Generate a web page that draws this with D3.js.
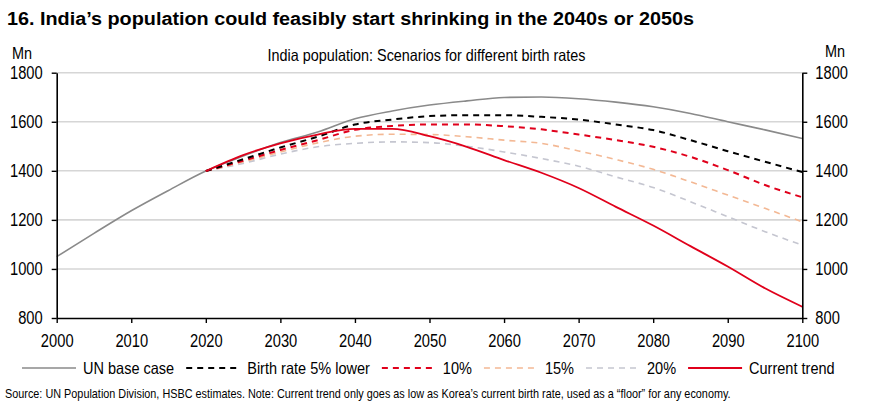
<!DOCTYPE html>
<html>
<head>
<meta charset="utf-8">
<script src="https://cdn.jsdelivr.net/npm/d3@7"></script>
<style>
  body { margin:0; background:#fff; }
  text { font-family:"Liberation Sans",Arial,sans-serif; fill:#000; }
  .title { font-weight:bold; }
</style>
</head>
<body>
<div id="chart"></div>
<script>
// data (Mn people)
var unYears=[2000,2005,2010,2015,2020,2025,2030,2035,2040,2045,2050,2055,2060,2065,2070,2075,2080,2085,2090,2095,2100];
var unBase=[1050,1145,1237,1320,1399,1460,1515,1558,1612,1644,1668,1685,1699,1701,1694,1680,1661,1634,1600,1567,1532];

var scYears=[2020,2025,2030,2035,2040,2045,2050,2055,2060,2065,2070,2075,2080,2085,2090,2095,2100];
var lower5=[1399,1447,1495,1539,1589,1609,1623,1627,1627,1620,1609,1589,1566,1525,1480,1437,1395];
var lower10=[1399,1441,1485,1525,1567,1583,1589,1589,1582,1569,1548,1525,1498,1457,1403,1342,1292];
var lower15=[1399,1436,1477,1514,1541,1549,1548,1539,1525,1512,1481,1446,1406,1355,1301,1247,1192];
var lower20=[1399,1430,1468,1498,1512,1518,1515,1500,1477,1450,1419,1375,1332,1274,1213,1152,1097];
var currentTrend=[1399,1464,1512,1548,1571,1571,1541,1498,1444,1392,1330,1253,1177,1093,1010,921,846];

var xTicks=[2000,2010,2020,2030,2040,2050,2060,2070,2080,2090,2100];
var yTicks=[800,1000,1200,1400,1600,1800];

var titleText="16. India\u2019s population could feasibly start shrinking in the 2040s or 2050s";
var subTitle="India population: Scenarios for different birth rates";
var sourceText="Source: UN Population Division, HSBC estimates. Note: Current trend only goes as low as Korea\u2019s current birth rate, used as a \u201cfloor\u201d for any economy.";

var svgW=869, svgH=412;
var margin={top:72.7,left:56.7,right:66.7,bottom:94};
var chartW=svgW-margin.left-margin.right;
var chartH=svgH-margin.top-margin.bottom;

var svg=d3.select('#chart').append('svg')
    .attr('width',svgW)
    .attr('height',svgH);

var chart=svg.append('g')
    .attr('transform',`translate(${margin.left},${margin.top})`);

// no narrow font installed, so squeeze the regular one to look like Arial Narrow
function squeeze(sel,k){
    sel.each(function(){
        var w=this.getComputedTextLength();
        d3.select(this).attr('textLength',w*k).attr('lengthAdjust','spacingAndGlyphs');
    });
}

var xscale=d3.scaleLinear().domain([2000,2100]).range([0,chartW]);
var yscale=d3.scaleLinear().domain([800,1800]).range([chartH,0]);

// gridlines
chart.selectAll('.grid')
    .data(yTicks.slice(1))
    .enter()
    .append('line')
    .attr('x1',0).attr('x2',chartW)
    .attr('y1',d=>yscale(d)).attr('y2',d=>yscale(d))
    .attr('stroke','#d6d6d6')
    .attr('stroke-width',1.6);

// series, drawn back to front
var series=[
    {name:'UN base case',years:unYears,vals:unBase,color:'#8a8a8a',w:1.6,dash:null},
    {name:'20%',years:scYears,vals:lower20,color:'#c5c6d0',w:1.6,dash:'6,5'},
    {name:'15%',years:scYears,vals:lower15,color:'#f3b894',w:1.6,dash:'6,5'},
    {name:'10%',years:scYears,vals:lower10,color:'#e0001b',w:2,dash:'6,5'},
    {name:'Birth rate 5% lower',years:scYears,vals:lower5,color:'#000000',w:2,dash:'6,5'},
    {name:'Current trend',years:scYears,vals:currentTrend,color:'#e0001b',w:1.8,dash:null}
];

var line=d3.line()
    .x(d=>xscale(d[0]))
    .y(d=>yscale(d[1]))
    .curve(d3.curveMonotoneX);

series.forEach(function(s){
    chart.append('path')
        .datum(s.years.map((y,i)=>[y,s.vals[i]]))
        .attr('fill','none')
        .attr('stroke',s.color)
        .attr('stroke-width',s.w)
        .attr('stroke-dasharray',s.dash)
        .attr('d',line);
});

// axes
var xaxis=d3.axisBottom(xscale).tickValues(xTicks).tickFormat(d3.format('d')).tickSizeInner(5).tickSizeOuter(0).tickPadding(12);
var yaxisL=d3.axisLeft(yscale).tickValues(yTicks).tickFormat(d3.format('d')).tickSizeInner(5).tickSizeOuter(0).tickPadding(9);
var yaxisR=d3.axisRight(yscale).tickValues(yTicks).tickFormat(d3.format('d')).tickSizeInner(5).tickSizeOuter(0).tickPadding(8);

var x_obj=chart.append('g').attr('transform',`translate(0,${chartH})`).call(xaxis);
var yl_obj=chart.append('g').call(yaxisL);
var yr_obj=chart.append('g').attr('transform',`translate(${chartW},0)`).call(yaxisR);

[x_obj,yl_obj,yr_obj].forEach(function(a){
    a.select('.domain').attr('stroke','#000').attr('stroke-width',1.6);
    a.selectAll('.tick line').attr('stroke','#000').attr('stroke-width',1.4);
    a.selectAll('.tick text').attr('font-size',17.5).attr('fill','#000')
        .style('font-family','"Liberation Sans",Arial,sans-serif');
    squeeze(a.selectAll('.tick text'),0.84);
});

// titles
svg.append('text').attr('class','title')
    .attr('x',7).attr('y',25)
    .attr('font-size',18.8)
    .attr('textLength',687).attr('lengthAdjust','spacingAndGlyphs')
    .text(titleText);

svg.append('text')
    .attr('x',margin.left+chartW/2-3).attr('y',61)
    .attr('text-anchor','middle')
    .attr('font-size',16.5)
    .attr('textLength',318).attr('lengthAdjust','spacingAndGlyphs')
    .text(subTitle);

squeeze(svg.append('text').attr('x',12).attr('y',59).attr('font-size',17).text('Mn'),0.85);
squeeze(svg.append('text').attr('x',825).attr('y',57).attr('font-size',17).text('Mn'),0.85);

// legend
var legendOrder=[0,4,3,2,1,5];
var lx=22, ly=368;
legendOrder.forEach(function(k){
    var s=series[k];
    svg.append('line')
        .attr('x1',lx).attr('x2',lx+54)
        .attr('y1',ly).attr('y2',ly)
        .attr('stroke',s.color)
        .attr('stroke-width',s.w)
        .attr('stroke-dasharray',s.dash);
    var t=svg.append('text')
        .attr('x',lx+61).attr('y',ly+6)
        .attr('font-size',16.5)
        .text(s.name);
    var w=t.node().getComputedTextLength()*0.88;
    t.attr('textLength',w).attr('lengthAdjust','spacingAndGlyphs');
    lx=lx+61+w+12;
});

svg.append('text')
    .attr('transform','translate(5,398) scale(0.835,1)')
    .attr('font-size',13)
    .text(sourceText);
</script>
</body>
</html>
